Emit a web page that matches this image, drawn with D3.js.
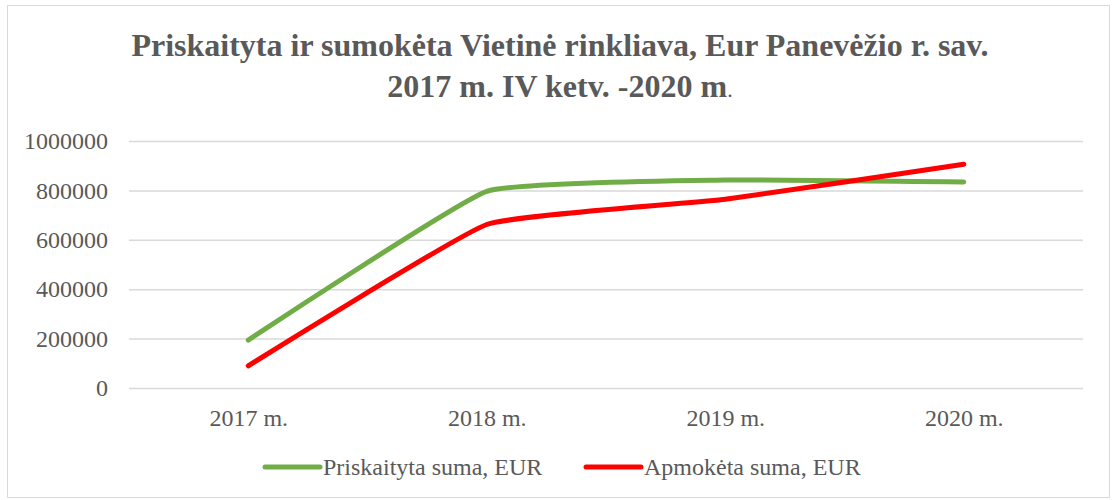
<!DOCTYPE html>
<html>
<head>
<meta charset="utf-8">
<script src="https://cdn.jsdelivr.net/npm/d3@7"></script>
<style>
  body { margin: 0; background: #fff; }
  svg { display: block; font-family: "Liberation Serif", "Times New Roman", serif; }
</style>
</head>
<body>
<div id="chart"></div>
<script>
// Data
const years = ["2017 m.", "2018 m.", "2019 m.", "2020 m."];
const priskaityta = [194000, 796000, 842000, 834000];
const apmoketa = [90000, 662000, 764000, 906000];
const yTicks = [0, 200000, 400000, 600000, 800000, 1000000];
const seriesNames = ["Priskaityta suma, EUR", "Apmokėta suma, EUR"];
const seriesColours = ["#70AD47", "#FF0000"];

const width = 1112;
const height = 500;
const margin = { top: 141, right: 29, bottom: 112, left: 129 };
const innerWidth = width - margin.left - margin.right;
const innerHeight = height - margin.top - margin.bottom;
const textColour = "#595959";
const fontFamily = "'Liberation Serif', 'Times New Roman', serif";

const svg = d3.select("#chart")
    .append("svg")
    .attr("width", width)
    .attr("height", height);

// Chart border
svg.append("rect")
    .attr("x", 7.5)
    .attr("y", 5.5)
    .attr("width", 1102)
    .attr("height", 492)
    .attr("fill", "#fff")
    .attr("stroke", "#D9D9D9")
    .attr("stroke-width", 1);

// Title
const title = svg.append("text")
    .attr("text-anchor", "middle")
    .attr("fill", textColour)
    .attr("font-weight", "bold")
    .attr("font-size", 32)
    .style("font-family", fontFamily);
title.append("tspan")
    .attr("x", width / 2 + 4)
    .attr("y", 56)
    .text("Priskaityta ir sumokėta Vietinė rinkliava, Eur Panevėžio r. sav.");
const line2 = title.append("tspan")
    .attr("x", width / 2 + 4)
    .attr("y", 97);
line2.append("tspan").text("2017 m. IV ketv. -2020 m");
line2.append("tspan").attr("font-weight", "normal").attr("font-size", 22).text(".");

const g = svg.append("g")
    .attr("transform", "translate(" + margin.left + "," + margin.top + ")");

// Scales
const xScale = d3.scalePoint()
    .domain(years)
    .range([0, innerWidth])
    .padding(0.5);

const yScale = d3.scaleLinear()
    .domain([0, 1000000])
    .range([innerHeight, 0]);

// Gridlines
g.append("g")
    .selectAll("line")
    .data(yTicks)
    .enter()
    .append("line")
    .attr("x1", 0)
    .attr("x2", innerWidth)
    .attr("y1", d => yScale(d) + 0.5)
    .attr("y2", d => yScale(d) + 0.5)
    .attr("stroke", "#D9D9D9")
    .attr("stroke-width", 1.5);

// Y axis
const yAxis = d3.axisLeft(yScale)
    .tickValues(yTicks)
    .tickFormat(d3.format("d"))
    .tickSize(0)
    .tickPadding(21);

g.append("g")
    .call(yAxis)
    .attr("font-family", null)
    .call(ax => ax.select(".domain").remove())
    .selectAll("text")
    .style("font-family", fontFamily)
    .attr("font-size", 24)
    .attr("fill", textColour);

// X axis
const xAxis = d3.axisBottom(xScale)
    .tickSize(0)
    .tickPadding(21);

g.append("g")
    .attr("transform", "translate(0," + innerHeight + ")")
    .call(xAxis)
    .attr("font-family", null)
    .call(ax => ax.select(".domain").remove())
    .selectAll("text")
    .style("font-family", fontFamily)
    .attr("font-size", 24)
    .attr("fill", textColour);

// Lines
const line = d3.line()
    .x((d, i) => xScale(years[i]))
    .y(d => yScale(d))
    .curve(d3.curveCardinal.tension(0.65));

[priskaityta, apmoketa].forEach((values, i) => {
    g.append("path")
        .datum(values)
        .attr("d", line)
        .attr("fill", "none")
        .attr("stroke", seriesColours[i])
        .attr("stroke-width", 5)
        .attr("stroke-linecap", "round")
        .attr("stroke-linejoin", "round");
});

// Legend
const legendX = [265, 586];
const legend = svg.append("g")
    .selectAll("g")
    .data(seriesNames)
    .enter()
    .append("g")
    .attr("transform", (d, i) => "translate(" + legendX[i] + ",467)");

legend.append("line")
    .attr("x1", 0)
    .attr("x2", 55)
    .attr("stroke", (d, i) => seriesColours[i])
    .attr("stroke-width", 5)
    .attr("stroke-linecap", "round");

legend.append("text")
    .attr("x", 58)
    .attr("y", 8)
    .attr("font-size", 24)
    .style("font-family", fontFamily)
    .attr("fill", textColour)
    .text(d => d);
</script>
</body>
</html>
